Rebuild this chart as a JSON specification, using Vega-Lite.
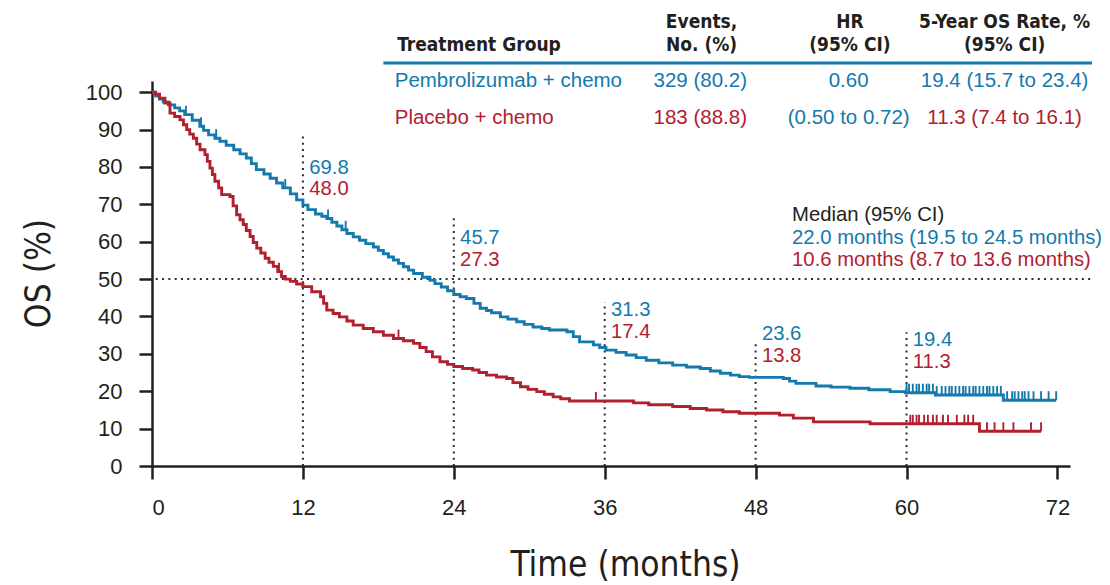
{
  "$schema": "https://vega.github.io/schema/vega-lite/v6.json",
  "width": 918,
  "height": 385,
  "autosize": "none",
  "padding": {"left": 152, "top": 81, "right": 40, "bottom": 119},
  "background": "white",
  "datasets": {
    "curves": [
      {"group": "Pembrolizumab + chemo", "t": 0, "s": 100},
      {"group": "Pembrolizumab + chemo", "t": 0.3, "s": 99.0},
      {"group": "Pembrolizumab + chemo", "t": 0.6, "s": 98.2},
      {"group": "Pembrolizumab + chemo", "t": 0.9, "s": 97.4},
      {"group": "Pembrolizumab + chemo", "t": 1.3, "s": 96.6},
      {"group": "Pembrolizumab + chemo", "t": 1.8, "s": 95.8},
      {"group": "Pembrolizumab + chemo", "t": 2.2, "s": 95.0},
      {"group": "Pembrolizumab + chemo", "t": 2.6, "s": 94.0},
      {"group": "Pembrolizumab + chemo", "t": 3.2, "s": 92.5},
      {"group": "Pembrolizumab + chemo", "t": 3.8, "s": 90.9},
      {"group": "Pembrolizumab + chemo", "t": 4.1, "s": 89.8},
      {"group": "Pembrolizumab + chemo", "t": 4.5, "s": 88.6},
      {"group": "Pembrolizumab + chemo", "t": 5.0, "s": 87.7},
      {"group": "Pembrolizumab + chemo", "t": 5.4, "s": 86.9},
      {"group": "Pembrolizumab + chemo", "t": 5.9, "s": 85.8},
      {"group": "Pembrolizumab + chemo", "t": 6.5, "s": 84.6},
      {"group": "Pembrolizumab + chemo", "t": 7.0, "s": 83.5},
      {"group": "Pembrolizumab + chemo", "t": 7.5, "s": 82.4},
      {"group": "Pembrolizumab + chemo", "t": 7.9, "s": 80.9},
      {"group": "Pembrolizumab + chemo", "t": 8.3, "s": 79.3},
      {"group": "Pembrolizumab + chemo", "t": 8.9, "s": 78.1},
      {"group": "Pembrolizumab + chemo", "t": 9.4, "s": 77.0},
      {"group": "Pembrolizumab + chemo", "t": 9.9, "s": 75.7},
      {"group": "Pembrolizumab + chemo", "t": 10.4, "s": 74.4},
      {"group": "Pembrolizumab + chemo", "t": 11.0, "s": 72.8},
      {"group": "Pembrolizumab + chemo", "t": 11.5, "s": 71.2},
      {"group": "Pembrolizumab + chemo", "t": 12.0, "s": 69.8},
      {"group": "Pembrolizumab + chemo", "t": 12.4, "s": 68.6},
      {"group": "Pembrolizumab + chemo", "t": 13.0, "s": 67.4},
      {"group": "Pembrolizumab + chemo", "t": 13.5, "s": 66.8},
      {"group": "Pembrolizumab + chemo", "t": 13.9, "s": 66.2},
      {"group": "Pembrolizumab + chemo", "t": 14.3, "s": 65.2},
      {"group": "Pembrolizumab + chemo", "t": 14.7, "s": 64.2},
      {"group": "Pembrolizumab + chemo", "t": 15.1, "s": 63.2},
      {"group": "Pembrolizumab + chemo", "t": 15.5, "s": 62.2},
      {"group": "Pembrolizumab + chemo", "t": 16.0, "s": 61.3},
      {"group": "Pembrolizumab + chemo", "t": 16.5, "s": 60.4},
      {"group": "Pembrolizumab + chemo", "t": 17.0, "s": 59.5},
      {"group": "Pembrolizumab + chemo", "t": 17.6, "s": 58.6},
      {"group": "Pembrolizumab + chemo", "t": 18.0, "s": 57.7},
      {"group": "Pembrolizumab + chemo", "t": 18.4, "s": 56.8},
      {"group": "Pembrolizumab + chemo", "t": 18.8, "s": 55.9},
      {"group": "Pembrolizumab + chemo", "t": 19.2, "s": 55.1},
      {"group": "Pembrolizumab + chemo", "t": 19.6, "s": 54.2},
      {"group": "Pembrolizumab + chemo", "t": 20.0, "s": 53.3},
      {"group": "Pembrolizumab + chemo", "t": 20.4, "s": 52.4},
      {"group": "Pembrolizumab + chemo", "t": 20.8, "s": 51.5},
      {"group": "Pembrolizumab + chemo", "t": 21.5, "s": 50.5},
      {"group": "Pembrolizumab + chemo", "t": 22.1, "s": 49.7},
      {"group": "Pembrolizumab + chemo", "t": 22.5, "s": 48.8},
      {"group": "Pembrolizumab + chemo", "t": 23.0, "s": 47.9},
      {"group": "Pembrolizumab + chemo", "t": 23.5, "s": 46.9},
      {"group": "Pembrolizumab + chemo", "t": 24.0, "s": 45.9},
      {"group": "Pembrolizumab + chemo", "t": 24.5, "s": 45.3},
      {"group": "Pembrolizumab + chemo", "t": 25.0, "s": 44.8},
      {"group": "Pembrolizumab + chemo", "t": 25.6, "s": 43.5},
      {"group": "Pembrolizumab + chemo", "t": 26.1, "s": 42.2},
      {"group": "Pembrolizumab + chemo", "t": 26.6, "s": 41.6},
      {"group": "Pembrolizumab + chemo", "t": 27.0, "s": 41.0},
      {"group": "Pembrolizumab + chemo", "t": 27.7, "s": 39.9},
      {"group": "Pembrolizumab + chemo", "t": 28.3, "s": 39.3},
      {"group": "Pembrolizumab + chemo", "t": 29.0, "s": 38.6},
      {"group": "Pembrolizumab + chemo", "t": 29.6, "s": 37.9},
      {"group": "Pembrolizumab + chemo", "t": 30.3, "s": 37.2},
      {"group": "Pembrolizumab + chemo", "t": 31.0, "s": 36.8},
      {"group": "Pembrolizumab + chemo", "t": 31.6, "s": 36.4},
      {"group": "Pembrolizumab + chemo", "t": 33.0, "s": 35.9},
      {"group": "Pembrolizumab + chemo", "t": 33.5, "s": 34.6},
      {"group": "Pembrolizumab + chemo", "t": 34.0, "s": 33.2},
      {"group": "Pembrolizumab + chemo", "t": 35.1, "s": 32.4},
      {"group": "Pembrolizumab + chemo", "t": 35.6, "s": 31.7},
      {"group": "Pembrolizumab + chemo", "t": 36.1, "s": 31.0},
      {"group": "Pembrolizumab + chemo", "t": 36.9, "s": 30.4},
      {"group": "Pembrolizumab + chemo", "t": 37.7, "s": 29.7},
      {"group": "Pembrolizumab + chemo", "t": 38.5, "s": 29.0},
      {"group": "Pembrolizumab + chemo", "t": 39.3, "s": 28.3},
      {"group": "Pembrolizumab + chemo", "t": 40.3, "s": 27.6},
      {"group": "Pembrolizumab + chemo", "t": 41.4, "s": 27.0},
      {"group": "Pembrolizumab + chemo", "t": 42.5, "s": 26.5},
      {"group": "Pembrolizumab + chemo", "t": 43.6, "s": 26.1},
      {"group": "Pembrolizumab + chemo", "t": 44.4, "s": 25.4},
      {"group": "Pembrolizumab + chemo", "t": 45.2, "s": 24.8},
      {"group": "Pembrolizumab + chemo", "t": 46.0, "s": 24.3},
      {"group": "Pembrolizumab + chemo", "t": 46.7, "s": 23.9},
      {"group": "Pembrolizumab + chemo", "t": 47.5, "s": 23.7},
      {"group": "Pembrolizumab + chemo", "t": 50.2, "s": 23.4},
      {"group": "Pembrolizumab + chemo", "t": 50.7, "s": 22.7},
      {"group": "Pembrolizumab + chemo", "t": 51.2, "s": 22.1},
      {"group": "Pembrolizumab + chemo", "t": 52.8, "s": 21.4},
      {"group": "Pembrolizumab + chemo", "t": 54.0, "s": 21.1},
      {"group": "Pembrolizumab + chemo", "t": 55.5, "s": 20.8},
      {"group": "Pembrolizumab + chemo", "t": 57.0, "s": 20.4},
      {"group": "Pembrolizumab + chemo", "t": 58.7, "s": 19.9},
      {"group": "Pembrolizumab + chemo", "t": 59.9, "s": 19.6},
      {"group": "Pembrolizumab + chemo", "t": 62.3, "s": 19.0},
      {"group": "Pembrolizumab + chemo", "t": 67.7, "s": 17.6},
      {"group": "Pembrolizumab + chemo", "t": 71.9, "s": 17.6},
      {"group": "Placebo + chemo", "t": 0, "s": 100},
      {"group": "Placebo + chemo", "t": 0.24, "s": 99.5},
      {"group": "Placebo + chemo", "t": 0.6, "s": 98.4},
      {"group": "Placebo + chemo", "t": 1.03, "s": 97.1},
      {"group": "Placebo + chemo", "t": 1.43, "s": 94.4},
      {"group": "Placebo + chemo", "t": 1.8, "s": 93.5},
      {"group": "Placebo + chemo", "t": 2.23, "s": 92.6},
      {"group": "Placebo + chemo", "t": 2.5, "s": 91.3},
      {"group": "Placebo + chemo", "t": 2.76, "s": 90.0},
      {"group": "Placebo + chemo", "t": 3.0, "s": 88.8},
      {"group": "Placebo + chemo", "t": 3.29, "s": 87.7},
      {"group": "Placebo + chemo", "t": 3.55, "s": 86.1},
      {"group": "Placebo + chemo", "t": 3.82, "s": 84.6},
      {"group": "Placebo + chemo", "t": 4.21, "s": 83.3},
      {"group": "Placebo + chemo", "t": 4.4, "s": 81.5},
      {"group": "Placebo + chemo", "t": 4.61, "s": 79.7},
      {"group": "Placebo + chemo", "t": 4.8, "s": 78.0},
      {"group": "Placebo + chemo", "t": 5.0, "s": 76.2},
      {"group": "Placebo + chemo", "t": 5.3, "s": 74.4},
      {"group": "Placebo + chemo", "t": 5.54, "s": 72.6},
      {"group": "Placebo + chemo", "t": 6.2, "s": 72.1},
      {"group": "Placebo + chemo", "t": 6.45, "s": 69.6},
      {"group": "Placebo + chemo", "t": 6.73, "s": 67.2},
      {"group": "Placebo + chemo", "t": 7.0, "s": 65.9},
      {"group": "Placebo + chemo", "t": 7.26, "s": 64.6},
      {"group": "Placebo + chemo", "t": 7.5, "s": 63.0},
      {"group": "Placebo + chemo", "t": 7.8, "s": 61.4},
      {"group": "Placebo + chemo", "t": 8.05, "s": 59.8},
      {"group": "Placebo + chemo", "t": 8.33, "s": 58.3},
      {"group": "Placebo + chemo", "t": 8.65, "s": 57.0},
      {"group": "Placebo + chemo", "t": 9.0, "s": 55.6},
      {"group": "Placebo + chemo", "t": 9.3, "s": 54.5},
      {"group": "Placebo + chemo", "t": 9.65, "s": 53.4},
      {"group": "Placebo + chemo", "t": 10.0, "s": 52.0},
      {"group": "Placebo + chemo", "t": 10.3, "s": 50.7},
      {"group": "Placebo + chemo", "t": 10.6, "s": 50.0},
      {"group": "Placebo + chemo", "t": 11.0, "s": 49.4},
      {"group": "Placebo + chemo", "t": 11.5, "s": 48.7},
      {"group": "Placebo + chemo", "t": 12.0, "s": 48.0},
      {"group": "Placebo + chemo", "t": 12.7, "s": 46.6},
      {"group": "Placebo + chemo", "t": 13.4, "s": 45.3},
      {"group": "Placebo + chemo", "t": 13.65, "s": 43.5},
      {"group": "Placebo + chemo", "t": 13.9, "s": 41.7},
      {"group": "Placebo + chemo", "t": 14.4, "s": 40.8},
      {"group": "Placebo + chemo", "t": 14.9, "s": 39.9},
      {"group": "Placebo + chemo", "t": 15.5, "s": 38.8},
      {"group": "Placebo + chemo", "t": 16.0, "s": 37.7},
      {"group": "Placebo + chemo", "t": 16.8, "s": 36.8},
      {"group": "Placebo + chemo", "t": 17.6, "s": 35.9},
      {"group": "Placebo + chemo", "t": 18.4, "s": 35.0},
      {"group": "Placebo + chemo", "t": 19.2, "s": 34.1},
      {"group": "Placebo + chemo", "t": 20.0, "s": 33.5},
      {"group": "Placebo + chemo", "t": 20.8, "s": 32.8},
      {"group": "Placebo + chemo", "t": 21.3, "s": 31.7},
      {"group": "Placebo + chemo", "t": 21.8, "s": 30.6},
      {"group": "Placebo + chemo", "t": 22.3, "s": 29.2},
      {"group": "Placebo + chemo", "t": 22.9, "s": 27.9},
      {"group": "Placebo + chemo", "t": 23.5, "s": 27.2},
      {"group": "Placebo + chemo", "t": 24.0, "s": 26.6},
      {"group": "Placebo + chemo", "t": 24.7, "s": 26.1},
      {"group": "Placebo + chemo", "t": 25.5, "s": 25.7},
      {"group": "Placebo + chemo", "t": 26.0, "s": 25.0},
      {"group": "Placebo + chemo", "t": 26.6, "s": 24.3},
      {"group": "Placebo + chemo", "t": 27.4, "s": 23.8},
      {"group": "Placebo + chemo", "t": 28.2, "s": 23.4},
      {"group": "Placebo + chemo", "t": 28.7, "s": 22.3},
      {"group": "Placebo + chemo", "t": 29.3, "s": 21.2},
      {"group": "Placebo + chemo", "t": 29.9, "s": 20.5},
      {"group": "Placebo + chemo", "t": 30.6, "s": 19.9},
      {"group": "Placebo + chemo", "t": 31.2, "s": 19.2},
      {"group": "Placebo + chemo", "t": 31.9, "s": 18.5},
      {"group": "Placebo + chemo", "t": 32.5, "s": 18.0},
      {"group": "Placebo + chemo", "t": 33.2, "s": 17.4},
      {"group": "Placebo + chemo", "t": 38.3, "s": 16.9},
      {"group": "Placebo + chemo", "t": 39.5, "s": 16.4},
      {"group": "Placebo + chemo", "t": 41.4, "s": 15.9},
      {"group": "Placebo + chemo", "t": 42.8, "s": 15.4},
      {"group": "Placebo + chemo", "t": 44.1, "s": 15.0},
      {"group": "Placebo + chemo", "t": 45.4, "s": 14.5},
      {"group": "Placebo + chemo", "t": 46.7, "s": 14.1},
      {"group": "Placebo + chemo", "t": 49.9, "s": 13.6},
      {"group": "Placebo + chemo", "t": 51.0, "s": 12.8},
      {"group": "Placebo + chemo", "t": 52.6, "s": 11.8},
      {"group": "Placebo + chemo", "t": 57.1, "s": 11.3},
      {"group": "Placebo + chemo", "t": 65.8, "s": 9.3},
      {"group": "Placebo + chemo", "t": 70.7, "s": 9.3}
    ],
    "censors": [
      {"group": "Pembrolizumab + chemo", "t": 2.7, "s": 94.0},
      {"group": "Pembrolizumab + chemo", "t": 3.9, "s": 90.9},
      {"group": "Pembrolizumab + chemo", "t": 5.1, "s": 87.7},
      {"group": "Pembrolizumab + chemo", "t": 10.6, "s": 74.4},
      {"group": "Pembrolizumab + chemo", "t": 14.0, "s": 66.2},
      {"group": "Pembrolizumab + chemo", "t": 15.4, "s": 63.2},
      {"group": "Pembrolizumab + chemo", "t": 60.0, "s": 19.6},
      {"group": "Pembrolizumab + chemo", "t": 60.2, "s": 19.6},
      {"group": "Pembrolizumab + chemo", "t": 60.5, "s": 19.6},
      {"group": "Pembrolizumab + chemo", "t": 60.8, "s": 19.6},
      {"group": "Pembrolizumab + chemo", "t": 61.0, "s": 19.6},
      {"group": "Pembrolizumab + chemo", "t": 61.3, "s": 19.6},
      {"group": "Pembrolizumab + chemo", "t": 61.6, "s": 19.6},
      {"group": "Pembrolizumab + chemo", "t": 61.8, "s": 19.6},
      {"group": "Pembrolizumab + chemo", "t": 62.1, "s": 19.6},
      {"group": "Pembrolizumab + chemo", "t": 62.4, "s": 19.0},
      {"group": "Pembrolizumab + chemo", "t": 62.8, "s": 19.0},
      {"group": "Pembrolizumab + chemo", "t": 63.1, "s": 19.0},
      {"group": "Pembrolizumab + chemo", "t": 63.4, "s": 19.0},
      {"group": "Pembrolizumab + chemo", "t": 63.6, "s": 19.0},
      {"group": "Pembrolizumab + chemo", "t": 63.9, "s": 19.0},
      {"group": "Pembrolizumab + chemo", "t": 64.2, "s": 19.0},
      {"group": "Pembrolizumab + chemo", "t": 64.5, "s": 19.0},
      {"group": "Pembrolizumab + chemo", "t": 64.7, "s": 19.0},
      {"group": "Pembrolizumab + chemo", "t": 65.0, "s": 19.0},
      {"group": "Pembrolizumab + chemo", "t": 65.3, "s": 19.0},
      {"group": "Pembrolizumab + chemo", "t": 65.5, "s": 19.0},
      {"group": "Pembrolizumab + chemo", "t": 65.8, "s": 19.0},
      {"group": "Pembrolizumab + chemo", "t": 66.1, "s": 19.0},
      {"group": "Pembrolizumab + chemo", "t": 66.4, "s": 19.0},
      {"group": "Pembrolizumab + chemo", "t": 66.6, "s": 19.0},
      {"group": "Pembrolizumab + chemo", "t": 66.9, "s": 19.0},
      {"group": "Pembrolizumab + chemo", "t": 67.2, "s": 19.0},
      {"group": "Pembrolizumab + chemo", "t": 67.5, "s": 19.0},
      {"group": "Pembrolizumab + chemo", "t": 68.0, "s": 17.6},
      {"group": "Pembrolizumab + chemo", "t": 68.4, "s": 17.6},
      {"group": "Pembrolizumab + chemo", "t": 68.6, "s": 17.6},
      {"group": "Pembrolizumab + chemo", "t": 68.9, "s": 17.6},
      {"group": "Pembrolizumab + chemo", "t": 69.2, "s": 17.6},
      {"group": "Pembrolizumab + chemo", "t": 69.4, "s": 17.6},
      {"group": "Pembrolizumab + chemo", "t": 69.7, "s": 17.6},
      {"group": "Pembrolizumab + chemo", "t": 70.1, "s": 17.6},
      {"group": "Pembrolizumab + chemo", "t": 70.7, "s": 17.6},
      {"group": "Pembrolizumab + chemo", "t": 71.3, "s": 17.6},
      {"group": "Pembrolizumab + chemo", "t": 71.9, "s": 17.6},
      {"group": "Placebo + chemo", "t": 10.1, "s": 52.0},
      {"group": "Placebo + chemo", "t": 19.6, "s": 34.1},
      {"group": "Placebo + chemo", "t": 35.3, "s": 17.4},
      {"group": "Placebo + chemo", "t": 60.3, "s": 11.3},
      {"group": "Placebo + chemo", "t": 60.5, "s": 11.3},
      {"group": "Placebo + chemo", "t": 60.8, "s": 11.3},
      {"group": "Placebo + chemo", "t": 61.0, "s": 11.3},
      {"group": "Placebo + chemo", "t": 61.4, "s": 11.3},
      {"group": "Placebo + chemo", "t": 61.7, "s": 11.3},
      {"group": "Placebo + chemo", "t": 62.1, "s": 11.3},
      {"group": "Placebo + chemo", "t": 62.4, "s": 11.3},
      {"group": "Placebo + chemo", "t": 62.9, "s": 11.3},
      {"group": "Placebo + chemo", "t": 63.3, "s": 11.3},
      {"group": "Placebo + chemo", "t": 64.0, "s": 11.3},
      {"group": "Placebo + chemo", "t": 64.6, "s": 11.3},
      {"group": "Placebo + chemo", "t": 64.9, "s": 11.3},
      {"group": "Placebo + chemo", "t": 65.3, "s": 11.3},
      {"group": "Placebo + chemo", "t": 66.4, "s": 9.3},
      {"group": "Placebo + chemo", "t": 67.0, "s": 9.3},
      {"group": "Placebo + chemo", "t": 67.7, "s": 9.3},
      {"group": "Placebo + chemo", "t": 68.5, "s": 9.3},
      {"group": "Placebo + chemo", "t": 69.9, "s": 9.3},
      {"group": "Placebo + chemo", "t": 70.7, "s": 9.3}
    ],
    "guides": [
      {"kind": "dot", "t": 12, "t2": 12, "s": 0, "s2": 89.1},
      {"kind": "dot", "t": 24, "t2": 24, "s": 0, "s2": 66.6},
      {"kind": "dot", "t": 36, "t2": 36, "s": 0, "s2": 43.9},
      {"kind": "dot", "t": 48, "t2": 48, "s": 0, "s2": 33.7},
      {"kind": "dot", "t": 60, "t2": 60, "s": 0, "s2": 35.8},
      {"kind": "dot", "t": 0.3, "t2": 74.6, "s": 50, "s2": 50},
      {"kind": "table", "t": 18.4, "t2": 74.75, "s": 107.8, "s2": 107.8}
    ],
    "notes": [
      {"group": "Pembrolizumab + chemo", "t": 12.5, "s": 79.7, "label": "69.8"},
      {"group": "Placebo + chemo", "t": 12.5, "s": 74.1, "label": "48.0"},
      {"group": "Pembrolizumab + chemo", "t": 24.5, "s": 61.0, "label": "45.7"},
      {"group": "Placebo + chemo", "t": 24.5, "s": 55.1, "label": "27.3"},
      {"group": "Pembrolizumab + chemo", "t": 36.5, "s": 41.7, "label": "31.3"},
      {"group": "Placebo + chemo", "t": 36.5, "s": 35.8, "label": "17.4"},
      {"group": "Pembrolizumab + chemo", "t": 48.5, "s": 35.3, "label": "23.6"},
      {"group": "Placebo + chemo", "t": 48.5, "s": 29.4, "label": "13.8"},
      {"group": "Pembrolizumab + chemo", "t": 60.5, "s": 33.7, "label": "19.4"},
      {"group": "Placebo + chemo", "t": 60.5, "s": 27.8, "label": "11.3"},
      {"group": "Header", "t": 50.9, "s": 67.1, "label": "Median (95% CI)"},
      {"group": "Pembrolizumab + chemo", "t": 50.9, "s": 61.0, "label": "22.0 months (19.5 to 24.5 months)"},
      {"group": "Placebo + chemo", "t": 50.9, "s": 55.1, "label": "10.6 months (8.7 to 13.6 months)"}
    ],
    "table": [
      {"kind": "head", "align": "left", "group": "Header", "t": 19.5, "s": 112.6, "label": "Treatment Group"},
      {"kind": "head", "align": "center", "group": "Header", "t": 43.7, "s": 118.7, "label": "Events,"},
      {"kind": "head", "align": "center", "group": "Header", "t": 43.7, "s": 112.6, "label": "No. (%)"},
      {"kind": "head", "align": "center", "group": "Header", "t": 55.5, "s": 118.7, "label": "HR"},
      {"kind": "head", "align": "center", "group": "Header", "t": 55.5, "s": 112.6, "label": "(95% CI)"},
      {"kind": "head", "align": "center", "group": "Header", "t": 67.8, "s": 118.7, "label": "5-Year OS Rate, %"},
      {"kind": "head", "align": "center", "group": "Header", "t": 67.8, "s": 112.6, "label": "(95% CI)"},
      {"kind": "body", "align": "left", "group": "Pembrolizumab + chemo", "t": 19.3, "s": 102.9, "label": "Pembrolizumab + chemo"},
      {"kind": "body", "align": "center", "group": "Pembrolizumab + chemo", "t": 43.6, "s": 102.9, "label": "329 (80.2)"},
      {"kind": "body", "align": "center", "group": "Pembrolizumab + chemo", "t": 55.4, "s": 102.9, "label": "0.60"},
      {"kind": "body", "align": "center", "group": "Pembrolizumab + chemo", "t": 67.8, "s": 102.9, "label": "19.4 (15.7 to 23.4)"},
      {"kind": "body", "align": "left", "group": "Placebo + chemo", "t": 19.3, "s": 93.0, "label": "Placebo + chemo"},
      {"kind": "body", "align": "center", "group": "Placebo + chemo", "t": 43.6, "s": 93.0, "label": "183 (88.8)"},
      {"kind": "body", "align": "center", "group": "Pembrolizumab + chemo", "t": 55.4, "s": 93.0, "label": "(0.50 to 0.72)"},
      {"kind": "body", "align": "center", "group": "Placebo + chemo", "t": 67.8, "s": 93.0, "label": "11.3 (7.4 to 16.1)"}
    ]
  },
  "config": {
    "view": {"stroke": null},
    "axis": {
      "grid": false,
      "domainColor": "#231f20",
      "tickColor": "#231f20",
      "labelColor": "#231f20",
      "titleColor": "#231f20",
      "domainWidth": 2.5,
      "tickWidth": 2.5,
      "tickSize": 13,
      "labelFont": "Liberation Sans",
      "labelFontSize": 22,
      "titleFont": "DejaVu Sans Condensed",
      "titleFontSize": 35,
      "titleFontWeight": "normal"
    }
  },
  "encoding": {
    "x": {
      "field": "t",
      "type": "quantitative",
      "scale": {"domain": [0, 73], "nice": false, "zero": false},
      "axis": {
        "values": [0, 12, 24, 36, 48, 60, 72],
        "title": "Time (months)",
        "labelPadding": 18,
        "titleX": 473,
        "titleY": 109,
        "titleAlign": "center",
        "titleBaseline": "alphabetic"
      }
    },
    "y": {
      "field": "s",
      "type": "quantitative",
      "scale": {"domain": [0, 103], "nice": false},
      "axis": {
        "values": [0, 10, 20, 30, 40, 50, 60, 70, 80, 90, 100],
        "title": "OS (%)",
        "labelPadding": 17,
        "titleX": -114,
        "titleY": 192,
        "titleAngle": 270,
        "titleAlign": "center",
        "titleBaseline": "middle"
      }
    },
    "color": {
      "field": "group",
      "type": "nominal",
      "scale": {
        "domain": ["Pembrolizumab + chemo", "Placebo + chemo", "Header"],
        "range": ["#1479ad", "#b2202f", "#231f20"]
      },
      "legend": null
    }
  },
  "layer": [
    {
      "data": {"name": "guides"},
      "transform": [{"filter": "datum.kind === 'dot'"}],
      "mark": {"type": "rule", "stroke": "#2b2b2b", "strokeWidth": 2, "strokeDash": [2, 4.3]},
      "encoding": {
        "x2": {"field": "t2"},
        "y2": {"field": "s2"},
        "color": {"value": "#2b2b2b"}
      }
    },
    {
      "data": {"name": "guides"},
      "transform": [{"filter": "datum.kind === 'table'"}],
      "mark": {"type": "rule", "stroke": "#1479ad", "strokeWidth": 3},
      "encoding": {
        "x2": {"field": "t2"},
        "y2": {"field": "s2"},
        "color": {"value": "#1479ad"}
      }
    },
    {
      "data": {"name": "curves"},
      "mark": {"type": "line", "interpolate": "step-after", "strokeWidth": 2.9}
    },
    {
      "data": {"name": "censors"},
      "mark": {"type": "point", "shape": "M0,0L0,-1", "size": 324, "filled": false, "strokeWidth": 1.9, "opacity": 1}
    },
    {
      "data": {"name": "notes"},
      "mark": {"type": "text", "align": "left", "baseline": "middle", "font": "Liberation Sans", "fontSize": 20.3},
      "encoding": {"text": {"field": "label"}}
    },
    {
      "data": {"name": "table"},
      "transform": [{"filter": "datum.kind === 'head' && datum.align === 'left'"}],
      "mark": {"type": "text", "align": "left", "baseline": "middle", "font": "DejaVu Sans Condensed", "fontSize": 19, "fontWeight": "bold"},
      "encoding": {"text": {"field": "label"}}
    },
    {
      "data": {"name": "table"},
      "transform": [{"filter": "datum.kind === 'head' && datum.align === 'center'"}],
      "mark": {"type": "text", "align": "center", "baseline": "middle", "font": "DejaVu Sans Condensed", "fontSize": 19, "fontWeight": "bold"},
      "encoding": {"text": {"field": "label"}}
    },
    {
      "data": {"name": "table"},
      "transform": [{"filter": "datum.kind === 'body' && datum.align === 'left'"}],
      "mark": {"type": "text", "align": "left", "baseline": "middle", "font": "Liberation Sans", "fontSize": 20.5},
      "encoding": {"text": {"field": "label"}}
    },
    {
      "data": {"name": "table"},
      "transform": [{"filter": "datum.kind === 'body' && datum.align === 'center'"}],
      "mark": {"type": "text", "align": "center", "baseline": "middle", "font": "Liberation Sans", "fontSize": 20.5},
      "encoding": {"text": {"field": "label"}}
    }
  ]
}
